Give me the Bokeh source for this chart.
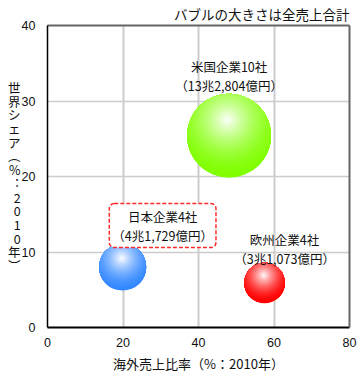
import numpy as np
from bokeh.plotting import figure
from bokeh.models import Label, FixedTicker, LinearAxis, ColumnDataSource
from bokeh.embed import file_html
from bokeh.resources import INLINE

# ---------------- data ----------------
groups = ["米国企業10社", "日本企業4社", "欧州企業4社"]
sales_text = ["13兆2,804億円", "4兆1,729億円", "3兆1,073億円"]
sales_cho = [13.2804, 4.1729, 3.1073]          # total sales (trillion yen)
overseas_ratio = [48.1, 19.9, 57.5]             # x: overseas sales ratio (%)
world_share = [25.4, 8.0, 5.9]                  # y: world share (%)
x_ticks = [0, 20, 40, 60, 80]
y_ticks = [0, 10, 20, 30, 40]
title_text = "バブルの大きさは全売上合計"
x_title = "海外売上比率（%：2010年）"
y_title = "世界シェア（%：2010年）"

# ---------------- layout / style ----------------
W, H = 364, 376
B_LEFT, B_RIGHT, B_TOP, B_BOTTOM = 47, 15, 25, 49
FW, FH = W - B_LEFT - B_RIGHT, H - B_TOP - B_BOTTOM
X0, X1, Y0, Y1 = 0, 80, 0, 40
PX_X = FW / (X1 - X0)
PX_Y = FH / (Y1 - Y0)
FONT = "Noto Sans CJK JP"
NUMFONT = "Liberation Sans"
TXT = "#111111"
base_colors = ["#80ff00", "#3388ff", "#ff0000"]
SIZE_K = 23.0            # px diameter per sqrt(trillion yen)
label_pos = [(48.1, 33.25), (30.5, 13.5), (62.8, 10.45)]

p = figure(width=W, height=H, x_range=(X0, X1), y_range=(Y0, Y1),
           output_backend="svg", toolbar_location=None,
           min_border_left=B_LEFT, min_border_right=B_RIGHT,
           min_border_top=B_TOP, min_border_bottom=B_BOTTOM)
p.background_fill_color = "white"
p.border_fill_color = "white"
p.outline_line_color = None

# title (top right)
p.title.text = title_text
p.title.align = "right"
p.title.text_font = FONT
p.title.text_font_size = "13.5px"
p.title.text_font_style = "normal"
p.title.text_color = TXT
p.title.standoff = 3

# grid
p.xgrid.ticker = FixedTicker(ticks=x_ticks)
p.ygrid.ticker = FixedTicker(ticks=y_ticks)
p.xgrid.grid_line_color = "#cccccc"
p.xgrid.grid_line_width = 2
p.ygrid.grid_line_color = "#cccccc"
p.ygrid.grid_line_width = 1.5

# axes
for ax, tk in ((p.xaxis, x_ticks), (p.yaxis, y_ticks)):
    ax.ticker = FixedTicker(ticks=tk)
    ax.axis_line_color = "black"
    ax.major_tick_line_color = None
    ax.minor_tick_line_color = None
    ax.major_label_text_font = NUMFONT
    ax.major_label_text_font_size = "12.5px"
    ax.major_label_text_color = TXT
    ax.axis_label_text_font = FONT
    ax.axis_label_text_font_size = "13px"
    ax.axis_label_text_font_style = "normal"
    ax.axis_label_text_color = TXT
p.xaxis.axis_line_width = 2
p.yaxis.axis_line_width = 1.5
p.xaxis.major_label_standoff = 4
p.yaxis.major_label_standoff = 6
p.xaxis.axis_label = x_title
p.xaxis.axis_label_standoff = 4

# vertical y-axis title: upright characters stacked
vmap = {"（": "︵", "）": "︶", "：": "︓"}
p.yaxis.axis_label = "\n".join(vmap.get(c, c) for c in y_title)
p.yaxis.axis_label_orientation = "horizontal"
p.yaxis.axis_label_text_font_size = "12.5px"
p.yaxis.axis_label_text_line_height = 0.72
p.yaxis.axis_label_text_align = "center"
p.yaxis.axis_label_standoff = -2

for loc in ("right", "above"):
    ax = LinearAxis(ticker=FixedTicker(ticks=[]), axis_line_color="#666666",
                    axis_line_width=2, major_tick_line_color=None,
                    minor_tick_line_color=None)
    p.add_layout(ax, loc)

# bubbles: base mark (size from sales) + radial shading layers
diam = [SIZE_K * np.sqrt(s) for s in sales_cho]
p.scatter(x=overseas_ratio, y=world_share, size=diam, marker="circle",
          fill_color=base_colors, line_color=None)


def mix(c, t):
    r, g, b = int(c[1:3], 16), int(c[3:5], 16), int(c[5:7], 16)
    r = round(r + (255 - r) * t)
    g = round(g + (255 - g) * t)
    b = round(b + (255 - b) * t)
    return "#%02x%02x%02x" % (r, g, b)


N = 40
GAMMA = 1.7
th = np.linspace(0, 2 * np.pi, 97)
ux, uy = np.cos(th), np.sin(th)
for xc, yc, D, col in zip(overseas_ratio, world_share, diam, base_colors):
    R = D / 2.0
    wx, wy = -0.04 * R, 0.38 * R
    uw = ux * wx + uy * wy
    s = -uw + np.sqrt(uw ** 2 - (wx ** 2 + wy ** 2 - R ** 2))
    rmax = R + np.hypot(wx, wy)
    xs, ys, cs = [], [], []
    for k in range(1, N):
        rho = rmax * (1 - k / N)
        r = np.minimum(rho, s)
        xs.append(list(xc + (wx + r * ux) / PX_X))
        ys.append(list(yc + (wy + r * uy) / PX_Y))
        cs.append(mix(col, (1 - rho / rmax) ** GAMMA))
    src = ColumnDataSource(dict(xs=xs, ys=ys, c=cs))
    p.patches("xs", "ys", source=src, fill_color="c", line_color=None)

# bubble labels
for i, (name, st) in enumerate(zip(groups, sales_text)):
    lx, ly = label_pos[i]
    kw = {}
    if i == 1:
        kw = dict(border_line_color="#ff2a2a", border_line_width=1.5,
                  border_line_dash="4 2", border_radius=5, padding=3,
                  background_fill_color="white")
    p.add_layout(Label(x=lx, y=ly, text=name + "\n（" + st + "）",
                       text_align="center", text_baseline="middle",
                       text_font=FONT, text_font_size="12.5px",
                       text_color=TXT, text_line_height=1.0, **kw))

open("out.html", "w").write(file_html(p, INLINE))
